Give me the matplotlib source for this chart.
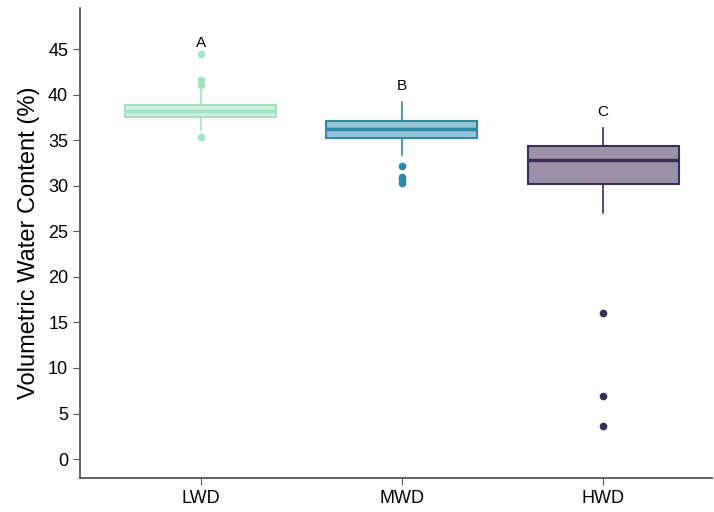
import numpy as np
import matplotlib.pyplot as plt

plt.rcParams['font.family'] = ['Liberation Sans', 'DejaVu Sans']

# groups and box statistics
groups = ['LWD', 'MWD', 'HWD']
q1 = [37.5, 35.2, 30.2]
med = [38.2, 36.2, 32.8]
q3 = [38.9, 37.1, 34.4]
whislo = [36.1, 33.4, 27.0]
whishi = [40.7, 39.2, 36.3]
fliers = [[44.5, 41.6, 41.1, 35.4],
          [32.2, 31.0, 30.7, 30.3],
          [16.0, 6.9, 3.6]]
letters = ['A', 'B', 'C']
letter_y = [45.7, 41.0, 38.1]

edge_cols = ['#a3e3c1', '#2f88a5', '#3b2d58']
fill_cols = ['#cff1de', '#96c4d4', '#9c91a8']

stats = []
for i, g in enumerate(groups):
    stats.append({'label': g, 'q1': q1[i], 'med': med[i], 'q3': q3[i],
                  'whislo': whislo[i], 'whishi': whishi[i], 'fliers': fliers[i]})

fig = plt.figure(figsize=(7.14, 5.12), dpi=100)
ax = fig.add_axes([0.112, 0.066, 0.885, 0.918])

for i, s in enumerate(stats):
    ax.bxp([s], positions=[i], widths=0.75, patch_artist=True, showcaps=False,
           boxprops=dict(facecolor=fill_cols[i], edgecolor=edge_cols[i], linewidth=1.5),
           medianprops=dict(color=edge_cols[i], linewidth=2.5),
           whiskerprops=dict(color=edge_cols[i], linewidth=1.2),
           flierprops=dict(marker='o', markerfacecolor=edge_cols[i],
                           markeredgecolor=edge_cols[i], markersize=4.5))
    ax.text(i, letter_y[i], letters[i], ha='center', va='center', fontsize=11)

ax.set_xlim(-0.6, 2.54)
ax.set_ylim(-2.1, 49.5)
ax.set_xticks(range(len(groups)))
ax.set_xticklabels(groups, fontsize=13)
ax.set_yticks(np.arange(0, 50, 5))
ax.tick_params(axis='y', labelsize=13, length=5, color='#555555')
ax.tick_params(axis='x', length=5, color='#555555')
ax.set_ylabel('Volumetric Water Content (%)', fontsize=17, labelpad=6)

for side in ['top', 'right']:
    ax.spines[side].set_visible(False)
for side in ['left', 'bottom']:
    ax.spines[side].set_color('#555555')
    ax.spines[side].set_linewidth(1.3)

fig.savefig('out.png', dpi=100)
